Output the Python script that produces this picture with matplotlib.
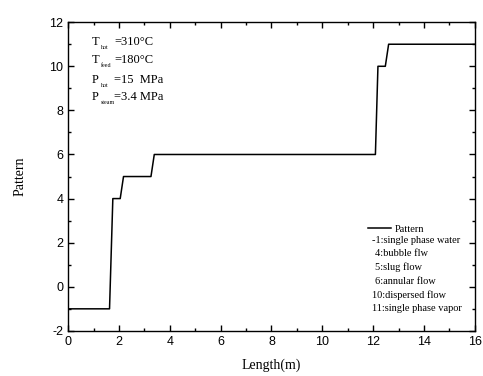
import matplotlib.pyplot as plt
from matplotlib.ticker import MultipleLocator
from matplotlib.lines import Line2D

plt.rcParams['axes.unicode_minus'] = False

# flow pattern along the tube
length = [0, 1.63, 1.76, 2.05, 2.18, 3.26, 3.39, 12.09, 12.19, 12.48, 12.61, 16]
pattern = [-1, -1, 4, 4, 5, 5, 6, 6, 10, 10, 11, 11]

pattern_names = ['-1:single phase water', '4:bubble flw', '5:slug flow',
                 '6:annular flow', '10:dispersed flow', '11:single phase vapor']

cond_symbols = ['T', 'T', 'P', 'P']
cond_subs = ['hot', 'feed', 'hot', 'steam']
cond_values = ['=310\u00b0C', '=180\u00b0C', '=15  MPa', '=3.4 MPa']

fig = plt.figure(figsize=(4.83, 3.76), dpi=100)
ax = fig.add_axes([0.141, 0.12, 0.842, 0.821])

ax.plot(length, pattern, color='black', lw=1.1)

ax.set_xlim(0, 16)
ax.set_ylim(-2, 12)
ax.xaxis.set_major_locator(MultipleLocator(2))
ax.xaxis.set_minor_locator(MultipleLocator(1))
ax.yaxis.set_major_locator(MultipleLocator(2))
ax.yaxis.set_minor_locator(MultipleLocator(1))
ax.tick_params(which='both', direction='in', top=True, right=True, width=1)
ax.tick_params(which='major', length=4)
ax.tick_params(which='minor', length=2.5)
for lab in ax.get_xticklabels() + ax.get_yticklabels():
    lab.set_family('Liberation Sans')
    lab.set_fontsize(9)
for sp in ax.spines.values():
    sp.set_linewidth(1)

ax.set_xlabel('Length(m)', family='Liberation Serif', fontsize=10, labelpad=8)
ax.set_ylabel('Pattern', family='Liberation Serif', fontsize=10, labelpad=16)

# operating conditions
ys = [0.935, 0.877, 0.814, 0.757]
for sym, sub, val, y in zip(cond_symbols, cond_subs, cond_values, ys):
    ax.text(0.059, y, sym, transform=ax.transAxes, family='Liberation Serif',
            fontsize=9, va='center')
    ax.text(0.080, y - 0.018, sub, transform=ax.transAxes, family='Liberation Serif',
            fontsize=4.3, va='center')
    ax.text(0.113, y, val, transform=ax.transAxes,
            family='Liberation Serif', fontsize=9, va='center')

# legend
ax.legend([Line2D([], [], color='black', lw=1.1)], ['Pattern'], frameon=False,
          loc='upper left', bbox_to_anchor=(0.715, 0.375), handlelength=2.2,
          handletextpad=0.3, prop={'family': 'Liberation Serif', 'size': 7.5})
xs = [0.748, 0.755, 0.755, 0.755, 0.748, 0.748]
for i, (name, x) in enumerate(zip(pattern_names, xs)):
    ax.text(x, 0.294 - i * 0.0445, name, transform=ax.transAxes,
            family='Liberation Serif', fontsize=7.5, va='center')

fig.savefig('out.png', dpi=100)
